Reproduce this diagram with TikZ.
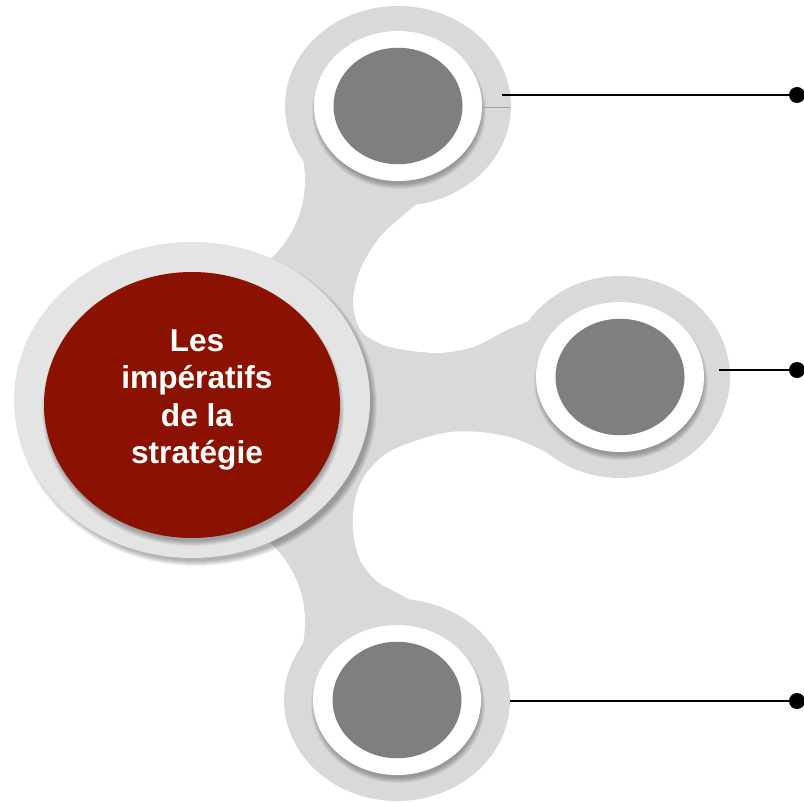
\documentclass[tikz,border=0pt]{standalone}
\usepackage{fontspec}
\setmainfont{Liberation Sans}
\usepackage{tikz}
\usetikzlibrary{positioning,shapes.geometric}
\definecolor{hub} {HTML}{8B1200}
\definecolor{arm} {HTML}{D9D9D9}
\definecolor{rim} {HTML}{E4E4E4}
\definecolor{core}{HTML}{7F7F7F}
% soft shadow under an ellipse: centre x, centre y, x radius, y radius, dx, dy
\newcommand{\halo}[6]{%
  \foreach \k in {0,...,5}{
    \fill[black,opacity=0.055] (#1+#5,#2+#6) ellipse [x radius=#3+\k,y radius=#4+\k];}}

\begin{document}
\begin{tikzpicture}[x=0.2mm,y=-0.2mm,
  dot/.style={circle,fill=black,minimum size=3.2mm,inner sep=0pt},
  lead/.style={line width=0.45mm}]
  \useasboundingbox (0,0) rectangle (804,801);
  % grey body, then the white bays cut between the arms
  \fill[arm] (300,105) -- (398,105) -- (620,377) -- (397,700) -- (300,700) -- (192,400) -- cycle;
  \fill[white] (198,180) circle (107);
  \fill[white] (198,622) circle (107);
  \fill[white] plot[smooth cycle] coordinates {(412,208) (380,237) (360,270) (353,303)
    (362,332) (390,347) (437,353) (473,347) (507,330) (535,318) (565,300) (585,250)
    (520,185) (450,180)};
  \fill[white] plot[smooth cycle] coordinates {(547,453) (513,438) (480,432) (450,432)
    (418,440) (387,453) (365,475) (355,500) (353,530) (360,560) (378,582) (407,598)
    (450,625) (500,630) (570,570) (590,480)};
  % centre
  \halo{192}{400}{176}{156}{4}{5}
  \fill[rim] (192,400) ellipse [x radius=178,y radius=158];
  \halo{192}{405}{146}{131}{1}{5}
  \fill[hub] (192,405) ellipse [x radius=148,y radius=133];
  \node[text=white,align=center,font=\bfseries\fontsize{18}{21.4}\selectfont]
    (title) at (197,400) {Les\\imp\'eratifs\\de la\\strat\'egie};
  % satellites
  \foreach \n/\x/\y/\rx/\ry in {top/398/106/113/100, mid/620/377/110/101, bot/397/700/113/101}{
    \fill[arm] (\x,\y) ellipse [x radius=\rx,y radius=\ry];
    \halo{\x}{\y}{82}{73}{1}{5}
    \fill[white] (\x,\y) ellipse [x radius=84,y radius=75];
    \node[ellipse,fill=core,minimum width=25.8mm,minimum height=23.3mm,inner sep=0pt]
      (\n) at (\x,\y) {};}
  \draw[arm!75!black,line width=0.15mm] (482,107) -- (510,107);
  % leader lines
  \coordinate (top-a) at (502,95);
  \coordinate (mid-a) at (719,370);
  \coordinate (bot-a) at (510,701);
  \node[dot] (top-b) at (797,95) {};
  \node[dot] (mid-b) at (797,370) {};
  \node[dot] (bot-b) at (797,701) {};
  \draw[lead] (top-a) -- (top-b);
  \draw[lead] (mid-a) -- (mid-b);
  \draw[lead] (bot-a) -- (bot-b);
\end{tikzpicture}
\end{document}
